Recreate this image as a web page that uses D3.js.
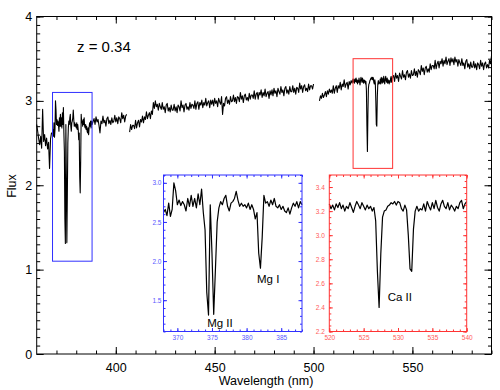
<!DOCTYPE html>
<html>
<head>
<meta charset="utf-8">
<script src="https://cdn.jsdelivr.net/npm/d3@7"></script>
<style>
  body { margin: 0; background: #fff; }
  svg { display: block; font-family: "Liberation Sans", Arial, sans-serif; }
</style>
</head>
<body>
<div id="chart"></div>
<script>
// spectrum, 0.5 nm sampling outside the two zoom windows
var leftFlux = [2.72, 2.64, 2.55, 2.48, 2.58, 2.44, 2.90, 2.52,
                2.60, 2.47, 2.56, 2.43, 2.51, 2.20, 2.55, 2.62];            // 360.0-367.5
var midFlux = [
  2.79, 2.72, 2.81, 2.75, 2.78, 2.71, 2.62, 2.76, 2.73, 2.82, 2.74, 2.77, 2.70, 2.79, 2.81, 2.73, 2.77, 2.72, 2.80, 2.74, // 389.0-398.5
  2.76, 2.83, 2.75, 2.80, 2.73, 2.81, 2.79, 2.74, 2.86, 2.79, 2.83, 2.75, 2.82, 2.84, null, null, 2.63, 2.72, 2.66, 2.71, // 399.0-408.5
  2.71, 2.67, 2.77, 2.68, 2.74, 2.77, 2.69, 2.78, 2.75, 2.82, 2.74, 2.81, 2.78, 2.87, 2.79, 2.83, 2.86, 2.79, 2.88, 2.84, // 409.0-418.5
  2.98, 2.91, 3.00, 2.93, 2.96, 2.89, 2.97, 2.93, 2.90, 2.98, 2.90, 2.93, 2.86, 2.95, 2.97, 2.88, 2.92, 2.87, 2.95, 2.89, // 419.0-428.5
  2.89, 2.96, 2.88, 2.93, 2.86, 2.95, 2.93, 2.88, 3.00, 2.92, 2.95, 2.87, 2.95, 2.97, 2.90, 2.93, 2.89, 2.98, 2.91, 2.96, // 429.0-438.5
  2.95, 2.91, 3.00, 2.90, 2.97, 2.99, 2.90, 2.98, 2.95, 3.01, 2.92, 2.98, 2.95, 3.03, 2.94, 2.98, 3.00, 2.92, 3.01, 2.96, // 439.0-448.5
  3.01, 2.94, 3.03, 2.97, 3.00, 2.93, 3.03, 2.99, 2.96, 3.05, 2.84, 2.97, 2.94, 3.03, 3.05, 2.97, 3.01, 2.96, 3.05, 2.99, // 449.0-458.5
  3.00, 3.07, 2.99, 3.04, 2.97, 3.05, 3.04, 2.99, 3.10, 3.02, 3.06, 2.98, 3.06, 3.08, 3.01, 3.04, 3.00, 3.09, 3.02, 3.07, // 459.0-468.5
  3.07, 3.03, 3.12, 3.02, 3.08, 3.10, 3.02, 3.10, 3.07, 3.13, 3.04, 3.10, 3.06, 3.14, 3.05, 3.09, 3.11, 3.03, 3.12, 3.07, // 469.0-478.5
  3.13, 3.06, 3.15, 3.09, 3.12, 3.05, 3.15, 3.11, 3.08, 3.17, 3.10, 3.13, 3.06, 3.15, 3.17, 3.09, 3.13, 3.08, 3.17, 3.11, // 479.0-488.5
  3.11, 3.18, 3.10, 3.15, 3.08, 3.16, 3.15, 3.10, 3.21, 3.14, 3.18, 3.10, 3.17, 3.19, 3.12, 3.15, 3.11, 3.20, 3.13, 3.18, // 489.0-498.5
  3.18, 3.14, 3.20, null, null, null, null, null, 3.00, 3.06, 3.03, 3.09, 3.04, 3.07, 3.11, 3.05, 3.12, 3.08, 3.14, 3.10, // 499.0-508.5
  3.13, 3.09, 3.18, 3.09, 3.15, 3.18, 3.10, 3.18, 3.15, 3.22, 3.13, 3.20, 3.17, 3.25, 3.16, 3.20, 3.22, 3.14, 3.23, 3.19, // 509.0-518.5
  3.24, 3.21                                                                                                                 // 519.0-519.5
];
var rightFlux = [
  3.30, 3.23, 3.33, 3.27, 3.30, 3.23, 3.33, 3.29, 3.26, 3.36, 3.28, 3.31, 3.25, 3.34, 3.36, 3.28, 3.32, 3.27, 3.36, 3.30, // 540.5-550.0
  3.31, 3.38, 3.30, 3.35, 3.28, 3.37, 3.35, 3.31, 3.42, 3.35, 3.39, 3.31, 3.39, 3.41, 3.34, 3.38, 3.34, 3.44, 3.37, 3.42, // 550.5-560.0
  3.42, 3.38, 3.48, 3.38, 3.44, 3.47, 3.39, 3.47, 3.44, 3.50, 3.41, 3.48, 3.44, 3.52, 3.43, 3.47, 3.50, 3.42, 3.51, 3.46, // 560.5-570.0
  3.50, 3.43, 3.52, 3.46, 3.49, 3.41, 3.49, 3.45, 3.42, 3.50, 3.42, 3.45, 3.38, 3.47, 3.49, 3.40, 3.44, 3.38, 3.46, 3.40, // 570.5-580.0
  3.40, 3.47, 3.39, 3.44, 3.37, 3.45, 3.43, 3.38, 3.48, 3.41, 3.45, 3.37, 3.44, 3.46, 3.39, 3.43, 3.39, 3.48, 3.44, 3.53  // 580.5-590.0
];
// zoom windows, 0.25 nm sampling
var mgFlux = [
  2.62, 2.66, 2.58, 2.74, 2.57, 2.66, 3.00, 2.90,   // 368.00-369.75
  2.72, 2.78, 2.71, 2.76, 2.72, 2.64, 2.80, 2.70,   // 370.00-371.75
  2.84, 2.70, 2.80, 2.68, 2.86, 2.72, 2.92, 2.62,   // 372.00-373.75
  2.40, 1.60, 1.31, 2.72, 2.10, 1.32, 1.90, 2.50,   // 374.00-375.75
  2.68, 2.76, 2.72, 2.80, 2.84, 2.70, 2.64, 2.74,   // 376.00-377.75
  2.76, 2.80, 2.89, 2.78, 2.70, 2.74, 2.70, 2.72,   // 378.00-379.75
  2.68, 2.74, 2.66, 2.72, 2.66, 2.54, 2.62, 2.10,   // 380.00-381.75
  1.91, 2.30, 2.84, 2.74, 2.76, 2.70, 2.78, 2.72,   // 382.00-383.75
  2.80, 2.70, 2.68, 2.72, 2.66, 2.70, 2.64, 2.62,   // 384.00-385.75
  2.68, 2.60, 2.68, 2.74, 2.70, 2.76, 2.68, 2.76,   // 386.00-387.75
  2.72                                              // 388.00
];
var caFlux = [
  3.26, 3.22, 3.25, 3.21, 3.26, 3.23, 3.27, 3.22,   // 520.00-521.75
  3.25, 3.20, 3.24, 3.22, 3.27, 3.23, 3.19, 3.24,   // 522.00-523.75
  3.28, 3.25, 3.22, 3.27, 3.24, 3.21, 3.25, 3.22,   // 524.00-525.75
  3.24, 3.20, 3.23, 3.12, 2.70, 2.40, 2.85, 3.15,   // 526.00-527.75
  3.20, 3.21, 3.24, 3.25, 3.27, 3.26, 3.28, 3.25,   // 528.00-529.75
  3.28, 3.27, 3.22, 3.20, 3.25, 3.21, 3.00, 2.72,   // 530.00-531.75
  2.70, 3.05, 3.20, 3.24, 3.20, 3.22, 3.21, 3.26,   // 532.00-533.75
  3.20, 3.28, 3.24, 3.21, 3.27, 3.22, 3.29, 3.23,   // 534.00-535.75
  3.20, 3.26, 3.29, 3.24, 3.22, 3.27, 3.21, 3.25,   // 536.00-537.75
  3.23, 3.20, 3.24, 3.22, 3.27, 3.29, 3.22, 3.26,   // 538.00-539.75
  3.28                                              // 540.00
];
var xMajor = [400, 450, 500, 550];
var yMajor = [0, 1, 2, 3, 4];
var mgXTicks = [370, 375, 380, 385];
var mgYTicks = [1.5, 2.0, 2.5, 3.0];
var caXTicks = [520, 525, 530, 535, 540];
var caYTicks = [2.2, 2.4, 2.6, 2.8, 3.0, 3.2, 3.4];
var lineLabels = [
  {text: "Mg II", inset: "mg", w: 374.3, f: 1.157},
  {text: "Mg I", inset: "mg", w: 381.5, f: 1.72},
  {text: "Ca II", inset: "ca", w: 528.5, f: 2.45}
];

function seg(start, step, arr) {
  return arr.map(function(f, i) { return {w: start + i * step, f: f}; });
}
var mgData = seg(368, 0.25, mgFlux);
var caData = seg(520, 0.25, caFlux);
var spectrum = [].concat(seg(360, 0.5, leftFlux), mgData, seg(389, 0.5, midFlux), caData, seg(540.5, 0.5, rightFlux));

var width = 500, height = 390;
var svg = d3.select("#chart").append("svg")
    .attr("width", width)
    .attr("height", height);

var x = d3.scaleLinear().domain([360, 590]).range([36.7, 491.5]);
var y = d3.scaleLinear().domain([0, 4]).range([354, 16.5]);

function step(a, b, s) {
  return d3.range(Math.round(a / s), Math.round(b / s) + 1).map(function(k) { return +(k * s).toFixed(3); });
}

// frame + inward ticks on all four sides
function frame(g, xs, ys, o) {
  var x0 = xs.range()[0], x1 = xs.range()[1], y0 = ys.range()[0], y1 = ys.range()[1];
  var sides = [
    {ax: d3.axisBottom, sc: xs, t: "translate(0," + y0 + ")", lab: true},
    {ax: d3.axisTop, sc: xs, t: "translate(0," + y1 + ")", lab: false},
    {ax: d3.axisLeft, sc: ys, t: "translate(" + x0 + ",0)", lab: true},
    {ax: d3.axisRight, sc: ys, t: "translate(" + x1 + ",0)", lab: false}
  ];
  sides.forEach(function(s, i) {
    var isX = i < 2;
    var minor = s.ax(s.sc).tickValues(isX ? o.xMinor : o.yMinor).tickSize(-o.minLen).tickSizeOuter(0).tickFormat("");
    var major = s.ax(s.sc).tickValues(isX ? o.xMajor : o.yMajor).tickSize(-o.majLen).tickSizeOuter(0)
        .tickPadding(isX ? o.xPad : o.yPad)
        .tickFormat(s.lab ? (isX ? o.xFmt : o.yFmt) : "");
    [minor, major].forEach(function(a) {
      var ag = g.append("g").attr("transform", s.t).call(a);
      ag.select(".domain").remove();
      ag.selectAll("line").attr("stroke", o.color).attr("stroke-width", 1);
      ag.selectAll("text").attr("fill", o.textColor).style("font-size", o.fontSize + "px")
        .style("font-family", "'Liberation Sans', Arial, sans-serif");
    });
  });
  g.append("rect")
    .attr("x", x0).attr("y", y1)
    .attr("width", x1 - x0).attr("height", y0 - y1)
    .attr("fill", "none").attr("stroke", o.color).attr("stroke-width", 1);
}

// main panel
var main = svg.append("g");
frame(main, x, y, {
  xMajor: xMajor, xMinor: step(370, 590, 10),
  yMajor: yMajor, yMinor: step(0, 4, 0.1),
  majLen: 7, minLen: 3.5, xPad: 9, yPad: 4.5,
  xFmt: d3.format("d"), yFmt: d3.format("d"),
  color: "#000", textColor: "#000", fontSize: 12.5
});

var line = d3.line()
    .defined(function(d) { return d.f != null; })
    .x(function(d) { return x(d.w); })
    .y(function(d) { return y(d.f); });

main.append("path")
    .datum(spectrum)
    .attr("d", line)
    .attr("fill", "none")
    .attr("stroke", "#000")
    .attr("stroke-width", 1.1)
    .attr("stroke-linejoin", "round");

// boxes marking the zoom windows
var boxes = [
  {w0: 368, w1: 388, f0: 1.1, f1: 3.1, color: "#3030ff"},
  {w0: 520, w1: 540, f0: 2.2, f1: 3.5, color: "#ff3333"}
];
main.selectAll(".box")
    .data(boxes)
    .enter().append("rect")
    .attr("class", "box")
    .attr("x", function(d) { return x(d.w0); })
    .attr("y", function(d) { return y(d.f1); })
    .attr("width", function(d) { return x(d.w1) - x(d.w0); })
    .attr("height", function(d) { return y(d.f0) - y(d.f1); })
    .attr("fill", "none")
    .attr("stroke", function(d) { return d.color; })
    .attr("stroke-width", 1);

main.append("text")
    .attr("x", 77).attr("y", 52)
    .style("font-size", "15px")
    .text("z = 0.34");

main.append("text")
    .attr("transform", "translate(16,186) rotate(-90)")
    .attr("text-anchor", "middle")
    .style("font-size", "12.5px")
    .text("Flux");

main.append("text")
    .attr("x", 266).attr("y", 385)
    .attr("text-anchor", "middle")
    .style("font-size", "12.5px")
    .text("Wavelength (nm)");

// insets
var insets = {
  mg: {
    x: d3.scaleLinear().domain([368, 388]).range([163.5, 302]),
    y: d3.scaleLinear().domain([1.1, 3.1]).range([331.5, 175]),
    data: mgData,
    opts: {
      xMajor: mgXTicks, xMinor: step(368, 388, 1),
      yMajor: mgYTicks, yMinor: step(1.1, 3.1, 0.1),
      majLen: 3.5, minLen: 2, xPad: 3.5, yPad: 2,
      xFmt: d3.format("d"), yFmt: d3.format(".1f"),
      color: "#3030ff", textColor: "#5858ff", fontSize: 6.5
    }
  },
  ca: {
    x: d3.scaleLinear().domain([520, 540]).range([329.3, 466.7]),
    y: d3.scaleLinear().domain([2.2, 3.5]).range([331.5, 175]),
    data: caData,
    opts: {
      xMajor: caXTicks, xMinor: step(520, 540, 1),
      yMajor: caYTicks, yMinor: step(2.2, 3.5, 0.05),
      majLen: 3.5, minLen: 2, xPad: 3.5, yPad: 4.5,
      xFmt: d3.format("d"), yFmt: d3.format(".1f"),
      color: "#ff3333", textColor: "#ff5a5a", fontSize: 6.5
    }
  }
};

Object.keys(insets).forEach(function(k) {
  var ins = insets[k];
  var g = svg.append("g");
  g.append("rect")
    .attr("x", ins.x.range()[0]).attr("y", ins.y.range()[1])
    .attr("width", ins.x.range()[1] - ins.x.range()[0])
    .attr("height", ins.y.range()[0] - ins.y.range()[1])
    .attr("fill", "#fff");
  var l = d3.line()
      .x(function(d) { return ins.x(d.w); })
      .y(function(d) { return ins.y(d.f); });
  g.append("path")
    .datum(ins.data)
    .attr("d", l)
    .attr("fill", "none")
    .attr("stroke", "#000")
    .attr("stroke-width", 1.2)
    .attr("stroke-linejoin", "round");
  frame(g, ins.x, ins.y, ins.opts);
});

svg.selectAll(".line-label")
    .data(lineLabels)
    .enter().append("text")
    .attr("class", "line-label")
    .attr("x", function(d) { return insets[d.inset].x(d.w); })
    .attr("y", function(d) { return insets[d.inset].y(d.f); })
    .style("font-size", "11.5px")
    .text(function(d) { return d.text; });
</script>
</body>
</html>
